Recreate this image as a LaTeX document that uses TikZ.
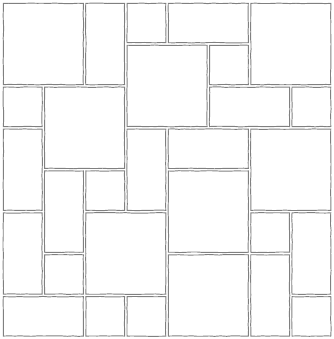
\documentclass[tikz,border=0pt]{standalone}
\usetikzlibrary{decorations.pathmorphing}
\tikzset{
  slab/.style={draw=black!50,line width=0.65pt,decorate,
    decoration={random steps,segment length=4pt,amplitude=0.2pt}}
}
\begin{document}
\begin{tikzpicture}[x=1cm,y=-1.016cm]
  \pgfmathsetseed{7}
  \useasboundingbox (-0.05,-0.05) rectangle (8.03,8.04);
  % paving slabs: left/top/right/bottom in grid cells
  \foreach \xa/\ya/\xb/\yb in {
      0/0/2/2, 2/0/3/2, 3/0/4/1, 4/0/6/1, 6/0/8/2,
      3/1/5/3, 5/1/6/2,
      0/2/1/3, 1/2/3/4, 5/2/7/3, 7/2/8/3,
      0/3/1/5, 3/3/4/5, 4/3/6/4, 6/3/8/5,
      1/4/2/6, 2/4/3/5, 4/4/6/6,
      0/5/1/7, 2/5/4/7, 6/5/7/6, 7/5/8/7,
      1/6/2/7, 4/6/6/8, 6/6/7/8,
      0/7/2/8, 2/7/3/8, 3/7/4/8, 7/7/8/8}
    \draw[slab] (\xa+0.03,\ya+0.03) rectangle (\xb-0.03,\yb-0.03);
\end{tikzpicture}
\end{document}
